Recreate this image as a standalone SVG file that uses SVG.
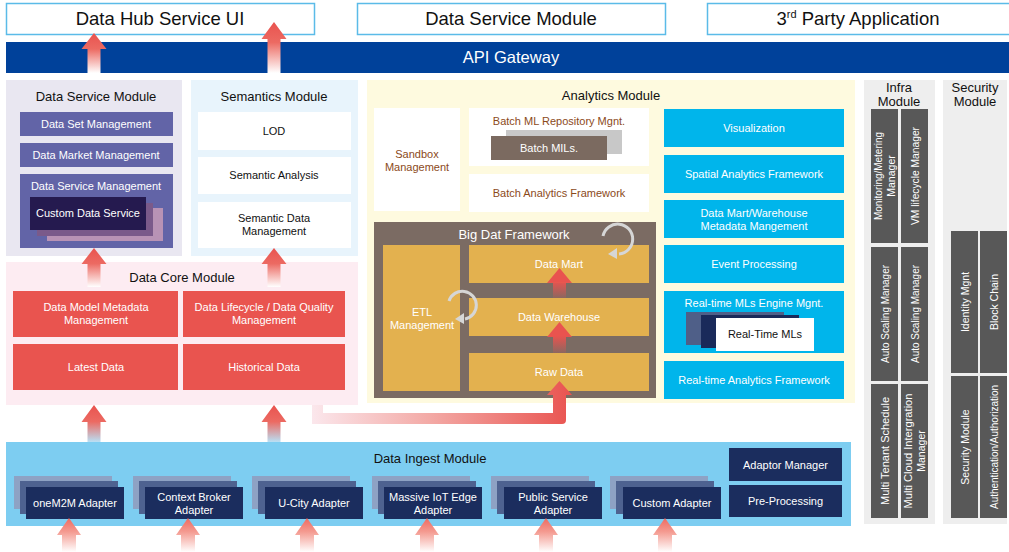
<svg xmlns="http://www.w3.org/2000/svg" width="1009" height="552" viewBox="0 0 1009 552">
  <defs>
    <style>
      text { font-family: "Liberation Sans", Arial, sans-serif; fill: #111; }
      .big { font-size: 18.5px; text-anchor: middle; }
      .ttl { font-size: 13px; text-anchor: middle; }
      .lbl { font-size: 11px; text-anchor: middle; }
      .w { fill: #fff; }
      .br { fill: #8b4a1a; }
      .rot { font-size: 10.5px; text-anchor: middle; fill: #fff; }
      .topbox { fill: #fff; stroke: #5bbbe8; stroke-width: 1.5; }
      .dsItem { fill: #6264a7; }
      .semItem { fill: #fff; }
      .core { fill: #e9544f; }
      .white { fill: #fff; }
      .yel { fill: #e3b14f; }
      .cyan { fill: #00b5eb; }
      .gray { fill: #585858; }
      .navy { fill: #1b2d5e; }
      .navy2 { fill: #4e6290; }
      .navy3 { fill: #8ea2c4; }
      .cyc { fill: none; stroke: #d6d6d6; stroke-width: 3; }
      .cycHead { fill: #d6d6d6; }
    </style>
    <linearGradient id="fadeWhite" x1="0" y1="0" x2="0" y2="1">
      <stop offset="0" stop-color="#e9534f"/>
      <stop offset="0.4" stop-color="#ec6a62"/>
      <stop offset="1" stop-color="#ffffff"/>
    </linearGradient>
    <linearGradient id="fadeSoft" x1="0" y1="0" x2="0" y2="1">
      <stop offset="0" stop-color="#ee6a60"/>
      <stop offset="0.4" stop-color="#f49a90"/>
      <stop offset="1" stop-color="#ffffff"/>
    </linearGradient>
    <linearGradient id="fadeBlue" x1="0" y1="0" x2="0" y2="1">
      <stop offset="0" stop-color="#e9534f"/>
      <stop offset="0.45" stop-color="#ec6a62"/>
      <stop offset="1" stop-color="#b9e0f5"/>
    </linearGradient>
    <linearGradient id="fadeClear" x1="0" y1="0" x2="0" y2="1">
      <stop offset="0" stop-color="#e9534f"/>
      <stop offset="0.45" stop-color="#e9534f"/>
      <stop offset="1" stop-color="#e9534f" stop-opacity="0.15"/>
    </linearGradient>
    <linearGradient id="fadeSide" x1="312" y1="0" x2="572" y2="0" gradientUnits="userSpaceOnUse">
      <stop offset="0" stop-color="#fbe7ec"/>
      <stop offset="0.45" stop-color="#f3aaa6"/>
      <stop offset="1" stop-color="#e9534f"/>
    </linearGradient>
  </defs>

  <!-- top row -->
  <g id="node-hub-ui">
    <rect class="topbox" x="6.5" y="3.5" width="308" height="31"/>
    <text class="big" x="160" y="25">Data Hub Service UI</text>
  </g>
  <g id="node-top-data-service">
    <rect class="topbox" x="357.5" y="3.5" width="308" height="31"/>
    <text class="big" x="511" y="25">Data Service Module</text>
  </g>
  <g id="node-3rd-party">
    <rect class="topbox" x="707.5" y="3.5" width="305" height="31"/>
    <text class="big" x="858" y="25">3<tspan font-size="11" dy="-7">rd</tspan><tspan dy="7"> Party Application</tspan></text>
  </g>

  <g id="node-api-gateway">
    <rect x="6" y="42" width="1003" height="31" fill="#00419a"/>
    <text x="511" y="63" font-size="16.5" text-anchor="middle" class="w">API Gateway</text>
  </g>

  <!-- Data Service Module -->
  <g id="node-data-service">
    <rect x="6" y="80" width="176" height="176" fill="#e9e7f1"/>
    <text class="ttl" x="96" y="101">Data Service Module</text>
    <rect class="dsItem" x="20" y="112" width="153" height="24"/>
    <text class="lbl w" x="96" y="128">Data Set Management</text>
    <rect class="dsItem" x="20" y="143" width="153" height="24"/>
    <text class="lbl w" x="96" y="159">Data Market Management</text>
    <rect class="dsItem" x="20" y="174" width="153" height="74"/>
    <text class="lbl w" x="96" y="190">Data Service Management</text>
    <rect x="47" y="208" width="116" height="33" fill="#b893b5"/>
    <rect x="37" y="203" width="116" height="33" fill="#7a5a8a"/>
    <rect x="30" y="197" width="116" height="33" fill="#251a4f"/>
    <text class="lbl w" x="88" y="217" font-size="11.5">Custom Data Service</text>
  </g>

  <!-- Semantics Module -->
  <g id="node-semantics">
    <rect x="191" y="80" width="167" height="176" fill="#e8f4fc"/>
    <text class="ttl" x="274" y="101">Semantics Module</text>
    <rect class="semItem" x="198" y="112" width="153" height="38"/>
    <text class="lbl" x="274" y="135">LOD</text>
    <rect class="semItem" x="198" y="157" width="153" height="37"/>
    <text class="lbl" x="274" y="179">Semantic Analysis</text>
    <rect class="semItem" x="198" y="202" width="153" height="46"/>
    <text class="lbl" x="274" y="222">Semantic Data</text>
    <text class="lbl" x="274" y="235">Management</text>
  </g>

  <!-- Data Core Module -->
  <g id="node-data-core">
    <rect x="6" y="262" width="352" height="143" fill="#fdecf2"/>
    <text class="ttl" x="182" y="282">Data Core Module</text>
    <rect class="core" x="13" y="291" width="165" height="46"/>
    <text class="lbl w" x="96" y="311">Data Model Metadata</text>
    <text class="lbl w" x="96" y="324">Management</text>
    <rect class="core" x="183" y="291" width="162" height="46"/>
    <text class="lbl w" x="264" y="311">Data Lifecycle / Data Quality</text>
    <text class="lbl w" x="264" y="324">Management</text>
    <rect class="core" x="13" y="344" width="165" height="46"/>
    <text class="lbl w" x="96" y="371">Latest Data</text>
    <rect class="core" x="183" y="344" width="162" height="46"/>
    <text class="lbl w" x="264" y="371">Historical Data</text>
  </g>

  <!-- Analytics Module -->
  <g id="node-analytics">
    <rect x="367" y="80" width="488" height="323" fill="#fefadf"/>
    <text class="ttl" x="611" y="100">Analytics Module</text>
    <rect class="white" x="374" y="108" width="86" height="103"/>
    <text class="lbl br" x="417" y="158">Sandbox</text>
    <text class="lbl br" x="417" y="171">Management</text>
    <rect class="white" x="469" y="108" width="180" height="58"/>
    <text class="lbl br" x="559" y="125">Batch ML Repository Mgnt.</text>
    <rect x="506" y="130" width="116" height="24" fill="#c8c8c8"/>
    <rect x="491" y="136" width="116" height="24" fill="#7b6a60"/>
    <text class="lbl w" x="549" y="152">Batch MILs.</text>
    <rect class="white" x="469" y="174" width="180" height="38"/>
    <text class="lbl br" x="559" y="197">Batch Analytics Framework</text>
  </g>

  <g id="node-big-data">
    <rect x="374" y="222" width="282" height="176" fill="#7b6b63"/>
    <text class="ttl w" x="514" y="239">Big Dat Framework</text>
    <rect class="yel" x="383" y="245" width="77" height="146"/>
    <text class="lbl w" x="422" y="316">ETL</text>
    <text class="lbl w" x="422" y="329">Management</text>
    <rect class="yel" x="469" y="245" width="180" height="38"/>
    <text class="lbl w" x="559" y="268">Data Mart</text>
    <rect class="yel" x="469" y="298" width="180" height="38"/>
    <text class="lbl w" x="559" y="321">Data Warehouse</text>
    <rect class="yel" x="469" y="353" width="180" height="38"/>
    <text class="lbl w" x="559" y="376">Raw Data</text>
    <!-- cycle marks -->
    <path class="cyc" d="M603,236 A15,15 0 1 1 619,254"/>
    <polygon class="cycHead" points="608,254 617,248 617,259"/>
    <path class="cyc" d="M449,301 A14,14 0 1 1 465,319"/>
    <polygon class="cycHead" points="455,319 464,313 464,324"/>
  </g>

  <g id="node-realtime">
    <rect class="cyan" x="664" y="109" width="180" height="38"/>
    <text class="lbl w" x="754" y="132">Visualization</text>
    <rect class="cyan" x="664" y="155" width="180" height="38"/>
    <text class="lbl w" x="754" y="178">Spatial Analytics Framework</text>
    <rect class="cyan" x="664" y="200" width="180" height="38"/>
    <text class="lbl w" x="754" y="217">Data Mart/Warehouse</text>
    <text class="lbl w" x="754" y="230">Metadata Mangement</text>
    <rect class="cyan" x="664" y="245" width="180" height="38"/>
    <text class="lbl w" x="754" y="268">Event Processing</text>
    <rect class="cyan" x="664" y="291" width="180" height="62"/>
    <text class="lbl w" x="754" y="307">Real-time MLs Engine Mgnt.</text>
    <rect x="686" y="312" width="98" height="33" fill="#4f5f88"/>
    <rect x="701" y="315" width="98" height="33" fill="#1a2a5a"/>
    <rect x="716" y="318" width="98" height="33" fill="#fff"/>
    <text class="lbl" x="765" y="338">Real-Time MLs</text>
    <rect class="cyan" x="664" y="361" width="180" height="38"/>
    <text class="lbl w" x="754" y="384">Real-time Analytics Framework</text>
  </g>

  <!-- Infra Module -->
  <g id="node-infra">
    <rect x="864" y="80" width="71" height="444" fill="#eeeeee"/>
    <text class="ttl" x="899" y="92">Infra</text>
    <text class="ttl" x="899" y="106">Module</text>
    <rect class="gray" x="871" y="109" width="27" height="134"/>
    <text class="rot" transform="translate(884.5,176) rotate(-90)" y="-2.5" textLength="88" lengthAdjust="spacingAndGlyphs">Monitoring/Metering</text>
    <text class="rot" transform="translate(884.5,176) rotate(-90)" y="10">Manager</text>
    <rect class="gray" x="901" y="109" width="27" height="134"/>
    <text class="rot" transform="translate(914.5,176) rotate(-90)" y="4" textLength="98" lengthAdjust="spacingAndGlyphs">VM lifecycle Manager</text>
    <rect class="gray" x="871" y="247" width="27" height="134"/>
    <text class="rot" transform="translate(884.5,314) rotate(-90)" y="4" textLength="98" lengthAdjust="spacingAndGlyphs">Auto Scaling Manager</text>
    <rect class="gray" x="901" y="247" width="27" height="134"/>
    <text class="rot" transform="translate(914.5,314) rotate(-90)" y="4" textLength="98" lengthAdjust="spacingAndGlyphs">Auto Scaling Manager</text>
    <rect class="gray" x="871" y="384" width="27" height="134"/>
    <text class="rot" transform="translate(884.5,451) rotate(-90)" y="4" textLength="108" lengthAdjust="spacingAndGlyphs">Multi Tenant Schedule</text>
    <rect class="gray" x="901" y="384" width="27" height="134"/>
    <text class="rot" transform="translate(914.5,451) rotate(-90)" y="-2.5" textLength="115" lengthAdjust="spacingAndGlyphs">Multi Cloud Intergration</text>
    <text class="rot" transform="translate(914.5,451) rotate(-90)" y="10">Manager</text>
  </g>

  <!-- Security Module -->
  <g id="node-security">
    <rect x="943" y="80" width="64" height="444" fill="#eeeeee"/>
    <text class="ttl" x="975" y="92">Security</text>
    <text class="ttl" x="975" y="106">Module</text>
    <rect class="gray" x="951" y="231" width="27" height="142"/>
    <text class="rot" transform="translate(964.5,302) rotate(-90)" y="4">Identity Mgnt</text>
    <rect class="gray" x="980" y="231" width="27" height="142"/>
    <text class="rot" transform="translate(993.5,302) rotate(-90)" y="4">Block Chain</text>
    <rect class="gray" x="951" y="376" width="27" height="142"/>
    <text class="rot" transform="translate(964.5,447) rotate(-90)" y="4">Security Module</text>
    <rect class="gray" x="980" y="376" width="27" height="142"/>
    <text class="rot" transform="translate(993.5,447) rotate(-90)" y="4" textLength="124" lengthAdjust="spacingAndGlyphs">Authentication/Authorization</text>
  </g>

  <!-- Data Ingest Module -->
  <g id="node-ingest">
    <rect x="6" y="442" width="845" height="84" fill="#7dcdf1"/>
    <text class="ttl" x="430" y="463">Data Ingest Module</text>
    <rect class="navy" x="729" y="448" width="113" height="33"/>
    <text class="lbl w" x="785.5" y="469">Adaptor Manager</text>
    <rect class="navy" x="729" y="485" width="113" height="32"/>
    <text class="lbl w" x="785.5" y="505">Pre-Processing</text>
  </g>
  <g id="node-adapter-onem2m">
    <rect class="navy3" x="14" y="476" width="98" height="33"/>
    <rect class="navy2" x="20" y="481" width="98" height="33"/>
    <rect class="navy" x="26" y="487" width="98" height="32"/>
    <text class="lbl w" x="75" y="507">oneM2M Adapter</text>
  </g>
  <g id="node-adapter-context">
    <rect class="navy3" x="133" y="476" width="98" height="33"/>
    <rect class="navy2" x="139" y="481" width="98" height="33"/>
    <rect class="navy" x="145" y="487" width="98" height="32"/>
    <text class="lbl w" x="194" y="501">Context Broker</text>
    <text class="lbl w" x="194" y="514">Adapter</text>
  </g>
  <g id="node-adapter-ucity">
    <rect class="navy3" x="252" y="476" width="98" height="33"/>
    <rect class="navy2" x="258" y="481" width="98" height="33"/>
    <rect class="navy" x="265" y="487" width="98" height="32"/>
    <text class="lbl w" x="314" y="507">U-City Adapter</text>
  </g>
  <g id="node-adapter-iot">
    <rect class="navy3" x="372" y="476" width="98" height="33"/>
    <rect class="navy2" x="378" y="481" width="98" height="33"/>
    <rect class="navy" x="384" y="487" width="98" height="32"/>
    <text class="lbl w" x="433" y="501">Massive IoT Edge</text>
    <text class="lbl w" x="433" y="514">Adapter</text>
  </g>
  <g id="node-adapter-public">
    <rect class="navy3" x="491" y="476" width="98" height="33"/>
    <rect class="navy2" x="497" y="481" width="98" height="33"/>
    <rect class="navy" x="504" y="487" width="98" height="32"/>
    <text class="lbl w" x="553" y="501">Public Service</text>
    <text class="lbl w" x="553" y="514">Adapter</text>
  </g>
  <g id="node-adapter-custom">
    <rect class="navy3" x="610" y="476" width="98" height="33"/>
    <rect class="navy2" x="616" y="481" width="98" height="33"/>
    <rect class="navy" x="623" y="487" width="98" height="32"/>
    <text class="lbl w" x="672" y="507">Custom Adapter</text>
  </g>

  <!-- connectors: block arrows -->
  <g id="connectors">
    <!-- gateway to Data Hub Service UI -->
    <path fill="url(#fadeWhite)" d="M94,33 L106.5,49 L100.5,49 L100.5,73 L87.5,73 L87.5,49 L81.5,49 Z"/>
    <path fill="url(#fadeWhite)" d="M274,22 L286.5,39 L280.5,39 L280.5,73 L267.5,73 L267.5,39 L261.5,39 Z"/>
    <!-- data core up to service / semantics -->
    <path fill="url(#fadeWhite)" d="M94,248 L106.5,264 L100.5,264 L100.5,287 L87.5,287 L87.5,264 L81.5,264 Z"/>
    <path fill="url(#fadeWhite)" d="M274,248 L286.5,264 L280.5,264 L280.5,287 L267.5,287 L267.5,264 L261.5,264 Z"/>
    <!-- ingest up to data core -->
    <path fill="url(#fadeBlue)" d="M94,405 L106.5,422 L100.5,422 L100.5,442 L87.5,442 L87.5,422 L81.5,422 Z"/>
    <path fill="url(#fadeBlue)" d="M274,405 L286.5,422 L280.5,422 L280.5,442 L267.5,442 L267.5,422 L261.5,422 Z"/>
    <!-- data core to raw data -->
    <path fill="url(#fadeSide)" d="M312,405 L323,405 L323,413 L553,413 L553,395 L547,395 L559.5,381 L572,395 L566,395 L566,420 Q566,424 562,424 L312,424 Z"/>
    <!-- inside big data framework -->
    <path fill="url(#fadeClear)" d="M559.5,322 L572,337 L566,337 L566,353 L553,353 L553,337 L547,337 Z"/>
    <path fill="url(#fadeClear)" d="M559.5,268 L572,283 L566,283 L566,298 L553,298 L553,283 L547,283 Z"/>
    <!-- sources into adapters -->
    <path fill="url(#fadeSoft)" d="M69,518 L81,535 L76,535 L76,552 L62,552 L62,535 L57,535 Z"/>
    <path fill="url(#fadeSoft)" d="M188,518 L200,535 L195,535 L195,552 L181,552 L181,535 L176,535 Z"/>
    <path fill="url(#fadeSoft)" d="M307,518 L319,535 L314,535 L314,552 L300,552 L300,535 L295,535 Z"/>
    <path fill="url(#fadeSoft)" d="M427,518 L439,535 L434,535 L434,552 L420,552 L420,535 L415,535 Z"/>
    <path fill="url(#fadeSoft)" d="M546,518 L558,535 L553,535 L553,552 L539,552 L539,535 L534,535 Z"/>
    <path fill="url(#fadeSoft)" d="M665,518 L677,535 L672,535 L672,552 L658,552 L658,535 L653,535 Z"/>
  </g>
</svg>
